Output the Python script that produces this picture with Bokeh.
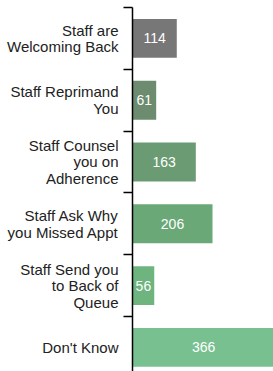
from bokeh.plotting import figure
from bokeh.models import Range1d, FixedTicker
from bokeh.core.properties import value
from bokeh.embed import file_html
from bokeh.resources import INLINE

categories = [
    "Staff are\nWelcoming Back",
    "Staff Reprimand\nYou",
    "Staff Counsel\nyou on\nAdherence",
    "Staff Ask Why\nyou Missed Appt",
    "Staff Send you\nto Back of\nQueue",
    "Don't Know",
]
counts = [114, 61, 163, 206, 56, 366]
colors = ["#777777", "#6d8b6f", "#6a9b73", "#6aa877", "#6db47e", "#78c08f"]

positions = list(range(len(categories)))
FONT = "Liberation Sans"
LINE_STEP = 0.267  # spacing of label lines, in band units

p = figure(
    width=273, height=371,
    x_range=Range1d(0, 363), y_range=Range1d(5.39, -0.5),
    output_backend="svg", toolbar_location=None,
    x_axis_location=None,
    min_border_left=132, min_border_right=0, min_border_top=7, min_border_bottom=0,
)
p.outline_line_color = None
p.xgrid.visible = False
p.ygrid.visible = False

p.hbar(y=positions, left=0, right=counts, height=0.63, color=colors, line_color=None)

p.text(x=[c / 2 for c in counts], y=positions, text=[str(c) for c in counts],
       text_align="center", text_baseline="middle", text_color="white",
       text_font=value(FONT), text_font_size="14px")

# one tick per label line so that every line is right-aligned
tick_pos = []
overrides = {}
for pos, cat in zip(positions, categories):
    lines = cat.split("\n")
    n = len(lines)
    for i, line in enumerate(lines):
        t = pos + (i - (n - 1) / 2) * LINE_STEP
        tick_pos.append(t)
        overrides[t] = line

ax = p.yaxis[0]
ax.ticker = FixedTicker(ticks=tick_pos, minor_ticks=[i - 0.5 for i in range(len(categories) + 1)])
ax.major_label_overrides = overrides
ax.major_tick_line_color = None
ax.major_tick_out = 0
ax.major_tick_in = 0
ax.minor_tick_out = 9
ax.minor_tick_in = 0
ax.minor_tick_line_color = "black"
ax.minor_tick_line_width = 1.5
ax.axis_line_color = "black"
ax.axis_line_width = 1.5
ax.major_label_standoff = 5
ax.major_label_text_font = FONT
ax.major_label_text_font_size = "15px"
ax.major_label_text_color = "#222222"
ax.major_label_text_baseline = "middle"

open("out.html", "w").write(file_html(p, INLINE))
